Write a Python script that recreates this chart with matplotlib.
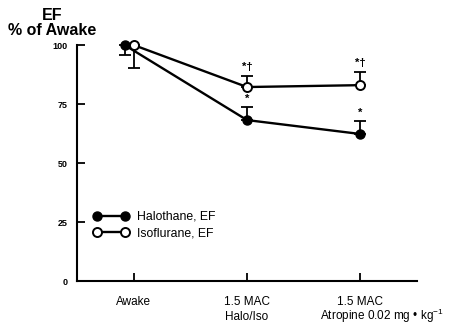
import matplotlib
matplotlib.use("Agg")
import matplotlib.pyplot as plt

plt.rcParams['font.family'] = ['Liberation Sans', 'DejaVu Sans']
plt.rcParams['mathtext.fontset'] = 'custom'
plt.rcParams['mathtext.rm'] = 'Liberation Sans'
plt.rcParams['mathtext.it'] = 'Liberation Sans'

categories = ["Awake", "1.5 MAC", "1.5 MAC"]
sublabels = ["", "Halo/Iso", "Atropine 0.02 mg \u2022 kg$^{-1}$"]
sublabel_shift = [0, 0, 0.19]
x_pos = [0, 1, 2]
halo_x = [-0.08, 1, 2]
iso_x = [0, 1, 2]
halo = [100, 68.2, 62.3]
iso = [100, 82.2, 83.0]
halo_err = [4.2, 5.5, 5.5]
iso_err = [9.7, 4.7, 5.6]
halo_err_dir = [-1, 1, 1]
iso_err_dir = [-1, 1, 1]
halo_sig = ["", "*", "*"]
iso_sig = ["", "*\u2020", "*\u2020"]
yticks = [0, 25, 50, 75, 100]

fig = plt.figure(figsize=(4.53, 3.24), dpi=100)
ax = fig.add_axes([0.170, 0.1327, 0.7505, 0.7283])

def errs(err, d):
    lo = [e if s < 0 else 0 for e, s in zip(err, d)]
    hi = [e if s > 0 else 0 for e, s in zip(err, d)]
    return [lo, hi]

ax.errorbar(halo_x, halo, yerr=errs(halo_err, halo_err_dir), fmt='none',
            ecolor='black', elinewidth=1.3, capsize=4.5, capthick=1.3, clip_on=False, zorder=2)
ax.errorbar(iso_x, iso, yerr=errs(iso_err, iso_err_dir), fmt='none',
            ecolor='black', elinewidth=1.3, capsize=4.5, capthick=1.3, clip_on=False, zorder=2)

ax.plot(halo_x, halo, '-o', color='black', lw=1.7, ms=6.5, mfc='black', mec='black',
        clip_on=False, zorder=3, label="Halothane, EF")
ax.plot(iso_x, iso, '-o', color='black', lw=1.7, ms=6.5, mfc='white', mec='black', mew=1.4,
        clip_on=False, zorder=4, label="Isoflurane, EF")

for xv, v, e, s in zip(halo_x, halo, halo_err, halo_sig):
    if s:
        ax.text(xv, v + e + 1.5, s, ha='center', va='bottom', fontsize=8, fontweight='bold')
for xv, v, e, s in zip(iso_x, iso, iso_err, iso_sig):
    if s:
        ax.text(xv, v + e + 1.5, s, ha='center', va='bottom', fontsize=8, fontweight='bold')

ax.set_xlim(-0.5, 2.5)
ax.set_ylim(0, 100)
ax.set_yticks(yticks)
ax.set_yticklabels([str(t) for t in yticks], fontsize=6.5, fontweight='bold')
ax.set_xticks(x_pos)
ax.set_xticklabels(categories, fontsize=8.5)
ax.tick_params(axis='y', direction='in', length=6, width=1.3, pad=6.5)
ax.tick_params(axis='x', direction='in', length=6, width=1.3, pad=10.5)
for sp in ['top', 'right']:
    ax.spines[sp].set_visible(False)
for sp in ['left', 'bottom']:
    ax.spines[sp].set_linewidth(1.5)

for xv, lab, sh in zip(x_pos, sublabels, sublabel_shift):
    if lab:
        ax.annotate(lab, xy=(xv + sh, 0), xycoords=('data', 'axes fraction'),
                    xytext=(0, -28), textcoords='offset points',
                    ha='center', va='baseline', fontsize=8.5, annotation_clip=False)

leg = ax.legend(loc='upper left', bbox_to_anchor=(0.048, 0.297), frameon=False,
                fontsize=8.8, numpoints=2, handlelength=2.9, handletextpad=0.68,
                labelspacing=0.38, borderpad=0, borderaxespad=0)

fig.text(0.116, 1 - 20 / 324, "EF", ha='center', va='baseline', fontsize=11.5, fontweight='bold')
fig.text(0.116, 1 - 35 / 324, "% of Awake", ha='center', va='baseline', fontsize=11.5, fontweight='bold')

fig.savefig("out.png", dpi=100)
